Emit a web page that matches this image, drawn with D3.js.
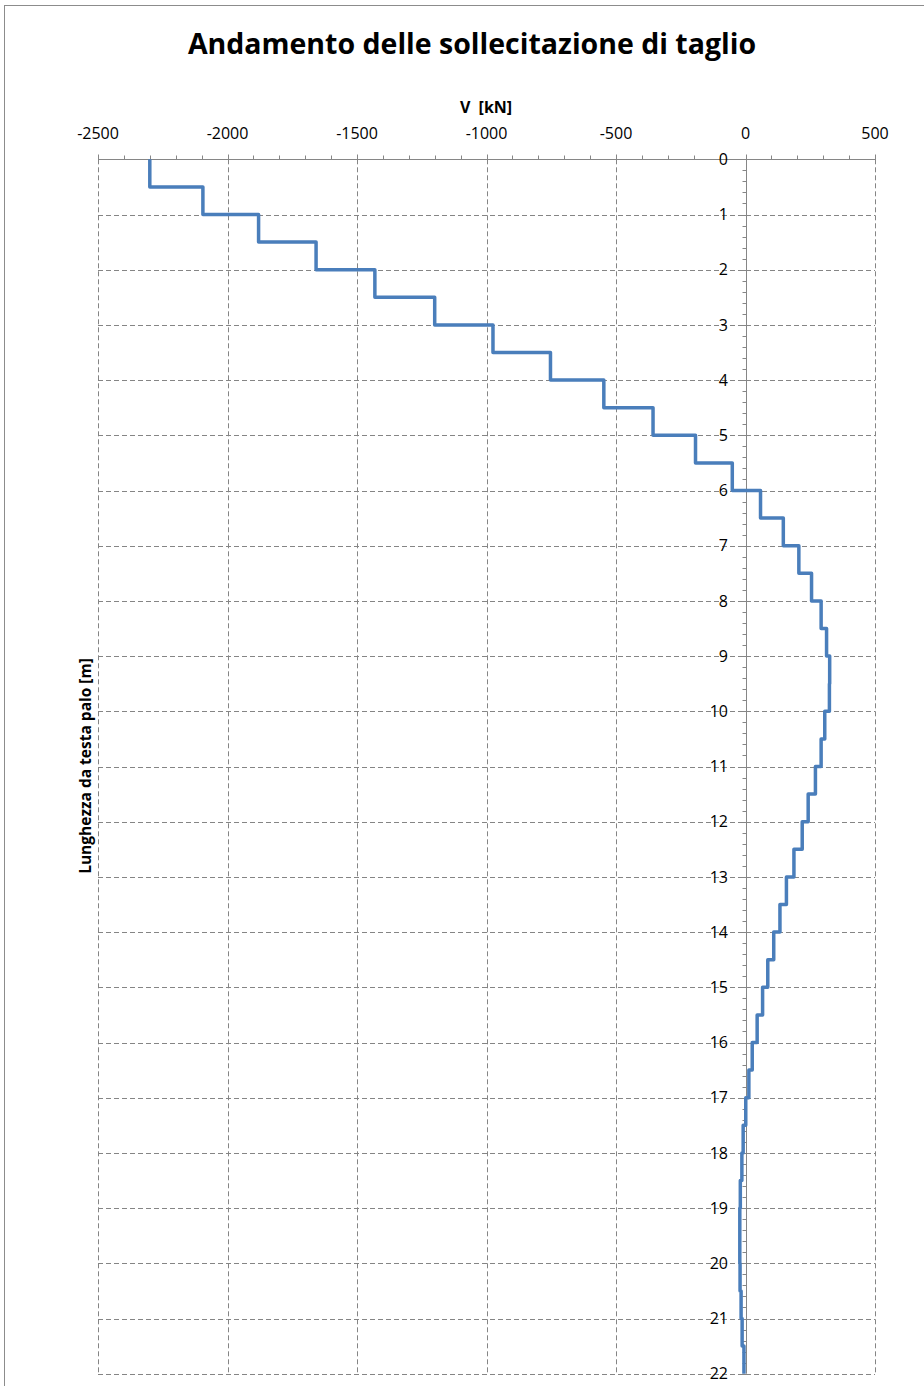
<!DOCTYPE html>
<html>
<head>
<meta charset="utf-8">
<script src="https://cdn.jsdelivr.net/npm/d3@7"></script>
<style>
  body { margin: 0; background: #fff; }
  text { font-family: "Open Sans", sans-serif; fill: #000; }
</style>
</head>
<body>
<div id="chart"></div>
<script>
// Depth of the top of each 0.5 m segment [m]
var depths = d3.range(0, 22, 0.5);
// Shear V [kN] on each segment
var shear = [
  -2300, -2095, -1880, -1658, -1431, -1200, -975, -753, -547, -357,
  -193, -51, 58, 146, 206, 255, 292, 313, 325, 324,
  306, 292, 270, 242, 219, 187, 158, 133, 109, 86,
  66, 45, 26, 13, 1, -9, -14, -20, -22, -22,
  -21, -17, -13, -6
];
var xTicks = [-2500, -2000, -1500, -1000, -500, 0, 500];
var yTicks = d3.range(0, 23, 1);

var width = 924, height = 1386;

var svg = d3.select("#chart").append("svg")
  .attr("width", width)
  .attr("height", height);

// chart area border
svg.append("rect")
  .attr("x", 4.5).attr("y", 5.5)
  .attr("width", 940).attr("height", 1400)
  .attr("fill", "none")
  .attr("stroke", "#8c8c8c");

var xScale = d3.scaleLinear().domain([-2500, 500]).range([98, 875]);
var yScale = d3.scaleLinear().domain([0, 22]).range([159.3, 1373.7]);

// gridlines
var grid = svg.append("g").attr("class", "grid")
  .attr("stroke", "#858585")
  .attr("stroke-dasharray", "5,3");

grid.selectAll("line.v").data(xTicks).enter().append("line")
  .attr("class", "v")
  .attr("x1", function (d) { return Math.round(xScale(d)) + 0.5; })
  .attr("x2", function (d) { return Math.round(xScale(d)) + 0.5; })
  .attr("y1", yScale(0)).attr("y2", yScale(22));

grid.selectAll("line.h").data(yTicks.slice(1)).enter().append("line")
  .attr("class", "h")
  .attr("y1", function (d) { return Math.round(yScale(d)) + 0.5; })
  .attr("y2", function (d) { return Math.round(yScale(d)) + 0.5; })
  .attr("x1", xScale(-2500)).attr("x2", xScale(500));

// top axis (x)
var x0 = Math.round(yScale(0)) + 0.5;
var xAxisG = svg.append("g").attr("stroke", "#868686");
xAxisG.append("line")
  .attr("x1", xScale(-2500)).attr("x2", xScale(500))
  .attr("y1", x0).attr("y2", x0);
xAxisG.selectAll("line.minor").data(d3.range(-2500, 501, 100)).enter().append("line")
  .attr("class", "minor")
  .attr("x1", function (d) { return Math.round(xScale(d)) + 0.5; })
  .attr("x2", function (d) { return Math.round(xScale(d)) + 0.5; })
  .attr("y1", x0 - 4).attr("y2", x0);
xAxisG.selectAll("line.major").data(xTicks).enter().append("line")
  .attr("class", "major")
  .attr("x1", function (d) { return Math.round(xScale(d)) + 0.5; })
  .attr("x2", function (d) { return Math.round(xScale(d)) + 0.5; })
  .attr("y1", x0 - 5).attr("y2", x0 + 3);

svg.append("g").selectAll("text").data(xTicks).enter().append("text")
  .attr("x", function (d) { return xScale(d); })
  .attr("y", 139)
  .attr("text-anchor", "middle")
  .attr("font-size", 16)
  .text(function (d) { return d; });

// y axis at V = 0
var y0 = Math.round(xScale(0)) + 0.5;
var yAxisG = svg.append("g").attr("stroke", "#868686");
yAxisG.append("line")
  .attr("x1", y0).attr("x2", y0)
  .attr("y1", yScale(0)).attr("y2", yScale(22));
yAxisG.selectAll("line.minor").data(d3.range(0, 22.01, 0.2)).enter().append("line")
  .attr("class", "minor")
  .attr("y1", function (d) { return Math.round(yScale(d)) + 0.5; })
  .attr("y2", function (d) { return Math.round(yScale(d)) + 0.5; })
  .attr("x1", y0 - 4).attr("x2", y0);
yAxisG.selectAll("line.major").data(yTicks).enter().append("line")
  .attr("class", "major")
  .attr("y1", function (d) { return Math.round(yScale(d)) + 0.5; })
  .attr("y2", function (d) { return Math.round(yScale(d)) + 0.5; })
  .attr("x1", y0 - 7).attr("x2", y0 + 3);

svg.append("g").selectAll("text").data(yTicks).enter().append("text")
  .attr("x", 728)
  .attr("y", function (d) { return yScale(d); })
  .attr("dy", "0.36em")
  .attr("text-anchor", "end")
  .attr("font-size", 16)
  .text(function (d) { return d; });

// step line of shear
var pts = depths.map(function (z, i) { return [shear[i], z]; });
pts.push([shear[shear.length - 1], 22]);

var line = d3.line()
  .x(function (d) { return xScale(d[0]); })
  .y(function (d) { return yScale(d[1]); })
  .curve(d3.curveStepBefore);

svg.append("path")
  .datum(pts)
  .attr("d", line)
  .attr("fill", "none")
  .attr("stroke", "#4a7ebb")
  .attr("stroke-width", 3.5)
  .attr("stroke-linejoin", "round");

// titles
svg.append("text")
  .attr("x", 472).attr("y", 54)
  .attr("text-anchor", "middle")
  .attr("font-size", 28.5)
  .attr("font-weight", "bold")
  .text("Andamento delle sollecitazione di taglio");

svg.append("text")
  .attr("x", 486).attr("y", 113)
  .attr("text-anchor", "middle")
  .attr("font-size", 16)
  .attr("font-weight", "bold")
  .attr("xml:space", "preserve")
  .text("V  [kN]");

svg.append("text")
  .attr("transform", "translate(91,766)rotate(-90)")
  .attr("text-anchor", "middle")
  .attr("font-size", 15.5)
  .attr("font-weight", "bold")
  .text("Lunghezza da testa palo [m]");
</script>
</body>
</html>
